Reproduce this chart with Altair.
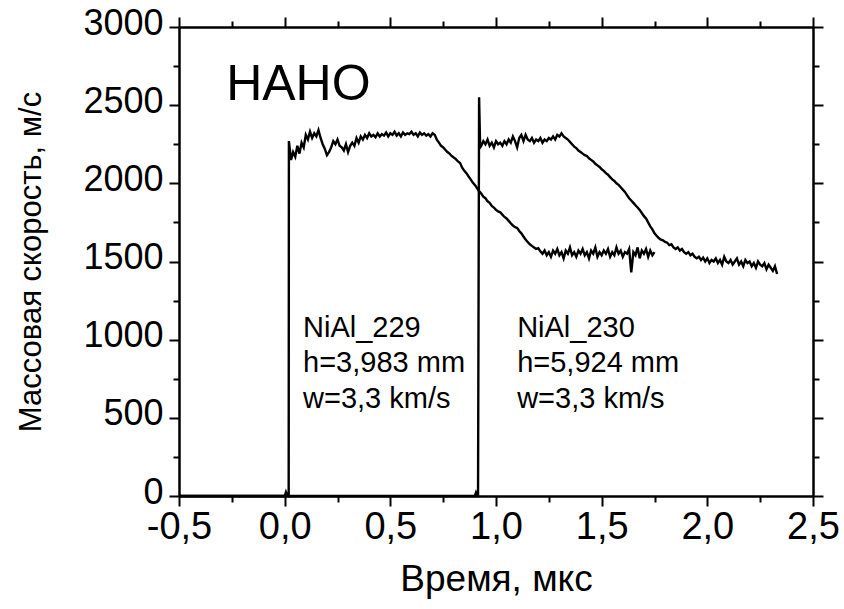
import altair as alt
import pandas as pd

FONT = "Liberation Sans"
STEP = 0.01  # sampling step of the recorded traces, µs

# NiAl_229: flat zero level before the shock arrives, then the recorded profile
s229_lead_t = [-0.5, 0.0, 0.006, 0.012, 0.019]
s229_lead_v = [0, 0, 25, 5, 0]
s229_start = 0.02
s229_v = [
    2270, 2150, 2200, 2170, 2240, 2190, 2260, 2230, 2310, 2280,
    2330, 2290, 2320, 2300, 2340, 2290, 2250, 2220, 2180, 2200,
    2230, 2270, 2250, 2280, 2240, 2230, 2210, 2250, 2200, 2240,
    2260, 2240, 2290, 2260, 2300, 2280, 2310, 2290, 2320, 2300,
    2310, 2295, 2320, 2300, 2315, 2305, 2325, 2300, 2320, 2310,
    2330, 2305, 2320, 2300, 2325, 2310, 2320, 2315, 2330, 2310,
    2320, 2300, 2325, 2310, 2320, 2305, 2315, 2300, 2320, 2310,
    2280, 2260, 2240, 2230, 2215, 2200, 2190, 2175, 2165, 2155,
    2140, 2130, 2100, 2080, 2065, 2045, 2025, 2005, 1990, 1970,
    1950, 1935, 1915, 1905, 1885, 1875, 1855, 1845, 1830, 1820,
    1815, 1800, 1785, 1775, 1760, 1745, 1730, 1720, 1715, 1695,
    1680, 1660, 1640, 1625, 1610, 1600, 1590, 1580, 1585, 1565,
    1550, 1570, 1540, 1560, 1530, 1570, 1550, 1580, 1540, 1560,
    1520, 1570, 1550, 1590, 1540, 1560, 1530, 1570, 1550, 1580,
    1540, 1560, 1520, 1570, 1550, 1590, 1530, 1560, 1540, 1570,
    1550, 1580, 1530, 1560, 1540, 1590, 1550, 1570, 1530, 1560,
    1550, 1580, 1430, 1560, 1540, 1590, 1520, 1570, 1550, 1580,
    1530, 1570, 1540, 1560,
]

# NiAl_230
s230_lead_t = [-0.5, 0.9, 0.905, 0.91, 0.915, 0.92, 0.925]
s230_lead_v = [0, 0, 20, 0, 0, 2550, 2230]
s230_start = 0.93
s230_v = [
    2240, 2270, 2250, 2280, 2240, 2260, 2230, 2270, 2250, 2260,
    2240, 2270, 2250, 2280, 2260, 2300, 2270, 2230, 2290, 2310,
    2270, 2310, 2280, 2270, 2290, 2260, 2280, 2270, 2290, 2260,
    2280, 2270, 2290, 2280, 2300, 2280, 2310, 2300, 2320, 2300,
    2290, 2280, 2265, 2250, 2235, 2225, 2210, 2200, 2190, 2180,
    2175, 2160, 2150, 2140, 2125, 2115, 2105, 2090, 2080, 2065,
    2055, 2040, 2025, 2015, 2000, 1990, 1975, 1960, 1945, 1925,
    1905, 1890, 1875, 1860, 1845, 1830, 1810, 1790, 1775, 1750,
    1725, 1705, 1680, 1665, 1650, 1640, 1635, 1625, 1620, 1605,
    1610, 1590, 1580, 1590, 1570, 1580, 1560, 1550, 1560, 1540,
    1550, 1530, 1520, 1530, 1510, 1525, 1500, 1520, 1490, 1510,
    1500, 1520, 1490, 1510, 1480, 1530, 1500, 1490, 1510, 1480,
    1500, 1520, 1480, 1500, 1470, 1510, 1490, 1500, 1470, 1490,
    1460, 1500, 1480, 1470, 1490, 1450, 1480, 1460, 1440, 1470,
    1420,
]

# Sample descriptions placed inside the plot (time, velocity of each line)
label_229 = ["NiAl_229", "h=3,983 mm", "w=3,3 km/s"]
label_230 = ["NiAl_230", "h=5,924 mm", "w=3,3 km/s"]
label_t = [0.087, 1.10]
label_v = [1017, 790, 560]
title_text = "НАНО"
title_t, title_v = -0.277, 2533

x_major = [-0.5, 0.0, 0.5, 1.0, 1.5, 2.0, 2.5]
x_minor = [-0.25, 0.25, 0.75, 1.25, 1.75, 2.25]
y_major = [0, 500, 1000, 1500, 2000, 2500, 3000]
y_minor = [250, 750, 1250, 1750, 2250, 2750]


def trace(name, lead_t, lead_v, start, vals):
    t = list(lead_t) + [round(start + i * STEP, 3) for i in range(len(vals))]
    v = list(lead_v) + list(vals)
    return pd.DataFrame({"t": t, "v": v, "run": name})


traces = pd.concat([
    trace("NiAl_229", s229_lead_t, s229_lead_v, s229_start, s229_v),
    trace("NiAl_230", s230_lead_t, s230_lead_v, s230_start, s230_v),
])

notes_229 = pd.DataFrame({"t": [label_t[0]] * 3, "v": label_v, "txt": label_229})
notes_230 = pd.DataFrame({"t": [label_t[1]] * 3, "v": label_v, "txt": label_230})
heading = pd.DataFrame({"t": [title_t], "v": [title_v], "txt": [title_text]})

xs = alt.Scale(domain=[-0.5, 2.5], nice=False, zero=False)
ys = alt.Scale(domain=[0, 3000], nice=False)

common = dict(grid=False, domainColor="black", domainWidth=2, tickColor="black",
              tickWidth=2, labelFlush=False, labelOverlap=False)

x_bottom = alt.Axis(orient="bottom", values=x_major, tickSize=10,
                    labelExpr="replace(replace(format(datum.value, '.1f'), '.', ','), '\u2212', '-')",
                    labelFont=FONT, labelFontSize=38, labelColor="black", labelPadding=2,
                    title="Время, мкс", titleFont=FONT, titleFontSize=37,
                    titleFontWeight="normal", titleColor="black", titlePadding=15, **common)
y_left = alt.Axis(orient="left", values=y_major, tickSize=10,
                  labelExpr="format(datum.value, 'd')",
                  labelFont=FONT, labelFontSize=36, labelColor="black", labelPadding=6,
                  labelOffset=-4,
                  title="Массовая скорость, м/с", titleFont=FONT, titleFontSize=31,
                  titleFontWeight="normal", titleColor="black", titlePadding=35, **common)
x_bottom_minor = alt.Axis(orient="bottom", values=x_minor, tickSize=6, labels=False,
                          title=None, **common)
y_left_minor = alt.Axis(orient="left", values=y_minor, tickSize=6, labels=False,
                        title=None, **common)
x_top = alt.Axis(orient="top", values=x_major, tickSize=10, labels=False, title=None, **common)
y_right = alt.Axis(orient="right", values=y_major, tickSize=10, labels=False, title=None, **common)
x_top_minor = alt.Axis(orient="top", values=x_minor, tickSize=6, labels=False, title=None, **common)
y_right_minor = alt.Axis(orient="right", values=y_minor, tickSize=6, labels=False, title=None, **common)

lines = alt.Chart(traces).mark_line(color="black", strokeWidth=2.4).encode(
    x=alt.X("t:Q", scale=xs, axis=x_bottom),
    y=alt.Y("v:Q", scale=ys, axis=y_left),
    detail="run:N",
)

text_style = dict(font=FONT, fontSize=29, color="black", align="left", baseline="alphabetic")

t229 = alt.Chart(notes_229).mark_text(**text_style).encode(
    x=alt.X("t:Q", scale=xs, axis=x_bottom_minor),
    y=alt.Y("v:Q", scale=ys, axis=y_left_minor),
    text="txt:N",
)
t230 = alt.Chart(notes_230).mark_text(**text_style).encode(
    x=alt.X("t:Q", scale=xs, axis=x_top),
    y=alt.Y("v:Q", scale=ys, axis=y_right),
    text="txt:N",
)
head = alt.Chart(heading).mark_text(font=FONT, fontSize=50, color="black", align="left",
                                     baseline="alphabetic").encode(
    x=alt.X("t:Q", scale=xs, axis=x_top_minor),
    y=alt.Y("v:Q", scale=ys, axis=y_right_minor),
    text="txt:N",
)

chart = alt.layer(lines, t229, t230, head).resolve_axis(
    x="independent", y="independent"
).properties(
    width=634, height=469,
    autosize=alt.AutoSizeParams(type="none"),
    padding={"left": 179, "top": 27, "right": 31, "bottom": 113},
    background="white",
).configure_view(stroke=None)

chart.save("out.html", embed_options={"renderer": "svg", "actions": False})
